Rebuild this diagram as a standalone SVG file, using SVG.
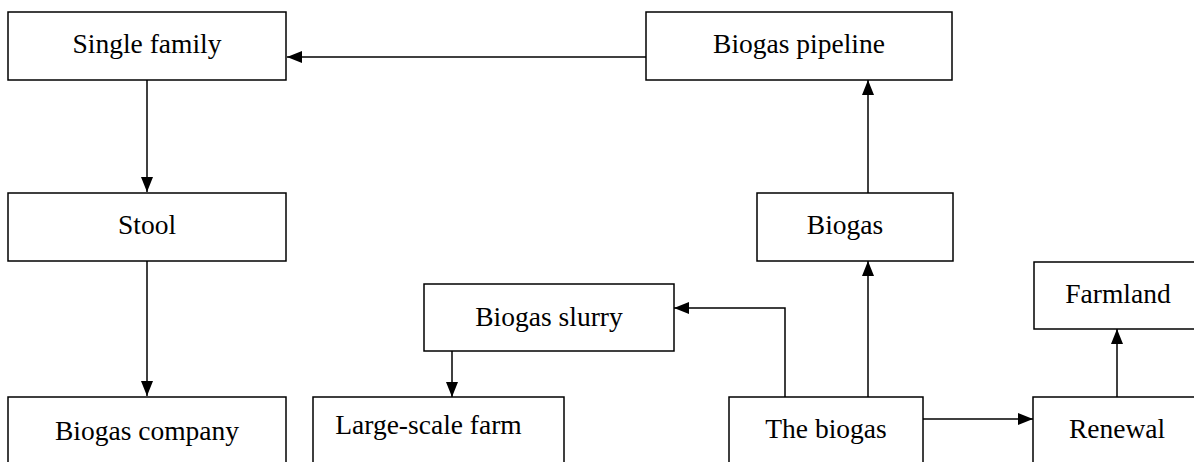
<svg xmlns="http://www.w3.org/2000/svg" width="1194" height="462" viewBox="0 0 1194 462">
<style>
.box{fill:#fff;stroke:#000;stroke-width:1.5}
.lbl{font-family:"Liberation Serif","Times New Roman",serif;font-size:27.5px;fill:#000}
.c{text-anchor:middle}
.edge{fill:none;stroke:#000;stroke-width:1.5}
</style>
<defs>
<marker id="ah" markerUnits="userSpaceOnUse" markerWidth="16" markerHeight="14" refX="15" refY="6" orient="auto">
<path d="M0,0 L15,6 L0,12 Z" fill="#000"/>
</marker>
</defs>
<rect width="1194" height="462" fill="#fff"/>
<g id="single-family"><rect class="box" x="8" y="12" width="278" height="68"/><text class="lbl c" x="147" y="53">Single family</text></g>
<g id="stool"><rect class="box" x="8" y="193" width="278" height="68"/><text class="lbl c" x="147" y="234">Stool</text></g>
<g id="biogas-company"><rect class="box" x="8" y="397" width="278" height="80"/><text class="lbl c" x="147" y="440">Biogas company</text></g>
<g id="biogas-pipeline"><rect class="box" x="646" y="12" width="306" height="68"/><text class="lbl c" x="799" y="53">Biogas pipeline</text></g>
<g id="biogas"><rect class="box" x="757" y="193" width="196" height="68"/><text class="lbl c" x="845" y="234">Biogas</text></g>
<g id="biogas-slurry"><rect class="box" x="424" y="284" width="250" height="67"/><text class="lbl c" x="549" y="326">Biogas slurry</text></g>
<g id="large-scale-farm"><rect class="box" x="313" y="397" width="251" height="80"/><text class="lbl c" x="428.5" y="434">Large-scale farm</text></g>
<g id="the-biogas"><rect class="box" x="729" y="397" width="194" height="80"/><text class="lbl c" x="826" y="438">The biogas</text></g>
<g id="farmland"><rect class="box" x="1034" y="262" width="170" height="67"/><text class="lbl c" x="1118" y="303">Farmland</text></g>
<g id="renewal"><rect class="box" x="1033" y="397" width="170" height="80"/><text class="lbl c" x="1117" y="438">Renewal</text></g>
<g id="connectors">
<path class="edge" d="M646,57 L287,57" marker-end="url(#ah)"/>
<path class="edge" d="M147,80 L147,192" marker-end="url(#ah)"/>
<path class="edge" d="M147,261 L147,396" marker-end="url(#ah)"/>
<path class="edge" d="M868,193 L868,80" marker-end="url(#ah)"/>
<path class="edge" d="M868,397 L868,261" marker-end="url(#ah)"/>
<path class="edge" d="M785,397 L785,308 L674,308" marker-end="url(#ah)"/>
<path class="edge" d="M452,351 L452,397" marker-end="url(#ah)"/>
<path class="edge" d="M923,419 L1033,419" marker-end="url(#ah)"/>
<path class="edge" d="M1117,397 L1117,329" marker-end="url(#ah)"/>
</g>
</svg>
